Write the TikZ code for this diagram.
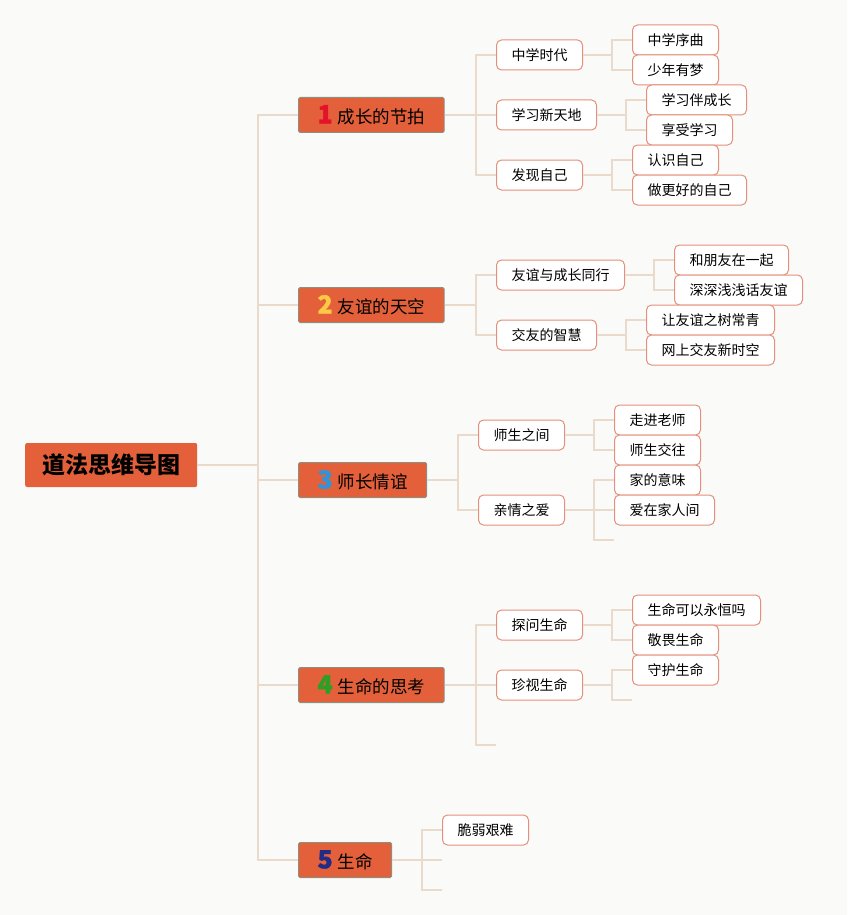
\documentclass[tikz,border=0pt]{standalone}
\usepackage{fontspec}
\setmainfont{Noto Sans CJK SC}
\definecolor{bg}{HTML}{FAFAF9}
\definecolor{unitfill}{HTML}{E4603A}
\definecolor{unitline}{HTML}{8E8E7C}
\definecolor{leafline}{HTML}{E4907A}
\definecolor{linkcol}{HTML}{E9DACB}
\definecolor{no1}{HTML}{E3132C}
\definecolor{no2}{HTML}{FBC945}
\definecolor{no3}{HTML}{3293D6}
\definecolor{no4}{HTML}{2F9E25}
\definecolor{no5}{HTML}{1F2D86}
\newcommand{\unitno}[2]{{\fontsize{25}{25}\selectfont\bfseries\addfontfeatures{FakeBold=1.5}\color{#1}#2}\hspace{5pt}}
\tikzset{
  rootbox/.style={fill=unitfill, rounded corners=2pt, minimum height=44pt,
    inner xsep=17pt, inner ysep=0pt, anchor=west,
    font=\fontsize{23}{23}\selectfont\bfseries},
  unitbox/.style={fill=unitfill, draw=unitline, line width=1pt, rounded corners=1.5pt,
    minimum height=35pt, inner xsep=19pt, inner ysep=0pt, anchor=west,
    font=\fontsize{17.5}{17.5}\selectfont},
  leafbox/.style={fill=white, draw=leafline, line width=1pt, rounded corners=5pt,
    minimum height=30pt, inner xsep=15pt, inner ysep=0pt, anchor=west,
    font=\fontsize{14}{14}\selectfont},
  link/.style={draw=linkcol, line width=1.3pt},
  elbow/.style={to path={(\tikztostart.east) -| ([xshift=-#1]\tikztotarget.west) -- (\tikztotarget.west)}},
  elbow/.default=20pt,
  stub/.style={to path={(\tikztostart.east) -| ([xshift=-20pt]\tikztotarget) -- (\tikztotarget)}},
}
\begin{document}
\begin{tikzpicture}[x=1pt, y=-1pt]
  \useasboundingbox[fill=bg] (0,0) rectangle (847,915);

  \node[rootbox] (root) at (25,465) {道法思维导图};

  % units
  \node[unitbox] (u1) at (298,115) {\unitno{no1}{1}成长的节拍};
  \node[unitbox] (u2) at (298,305) {\unitno{no2}{2}友谊的天空};
  \node[unitbox] (u3) at (298,480) {\unitno{no3}{3}师长情谊};
  \node[unitbox] (u4) at (298,685) {\unitno{no4}{4}生命的思考};
  \node[unitbox] (u5) at (298,860) {\unitno{no5}{5}生命};

  % unit 1
  \node[leafbox] (u1-1) at (496,55) {中学时代};
  \node[leafbox] (u1-2) at (496,115) {学习新天地};
  \node[leafbox] (u1-3) at (496,175) {发现自己};
  \node[leafbox] (u1-1-1) at (632,40) {中学序曲};
  \node[leafbox] (u1-1-2) at (632,70) {少年有梦};
  \node[leafbox] (u1-2-1) at (646,100) {学习伴成长};
  \node[leafbox] (u1-2-2) at (646,130) {享受学习};
  \node[leafbox] (u1-3-1) at (632,160) {认识自己};
  \node[leafbox] (u1-3-2) at (632,190) {做更好的自己};

  % unit 2
  \node[leafbox] (u2-1) at (496,275) {友谊与成长同行};
  \node[leafbox] (u2-2) at (496,335) {交友的智慧};
  \node[leafbox] (u2-1-1) at (674,260) {和朋友在一起};
  \node[leafbox] (u2-1-2) at (674,290) {深深浅浅话友谊};
  \node[leafbox] (u2-2-1) at (646,320) {让友谊之树常青};
  \node[leafbox] (u2-2-2) at (646,350) {网上交友新时空};

  % unit 3
  \node[leafbox] (u3-1) at (478,435) {师生之间};
  \node[leafbox] (u3-2) at (478,510) {亲情之爱};
  \node[leafbox] (u3-1-1) at (614,420) {走进老师};
  \node[leafbox] (u3-1-2) at (614,450) {师生交往};
  \node[leafbox] (u3-2-1) at (614,480) {家的意味};
  \node[leafbox] (u3-2-2) at (614,510) {爱在家人间};
  \coordinate (u3-2-3) at (614,540);

  % unit 4
  \node[leafbox] (u4-1) at (496,625) {探问生命};
  \node[leafbox] (u4-2) at (496,685) {珍视生命};
  \coordinate (u4-3) at (496,745);
  \node[leafbox] (u4-1-1) at (632,610) {生命可以永恒吗};
  \node[leafbox] (u4-1-2) at (632,640) {敬畏生命};
  \node[leafbox] (u4-2-1) at (632,670) {守护生命};
  \coordinate (u4-2-2) at (632,700);

  % unit 5
  \node[leafbox] (u5-1) at (442,830) {脆弱艰难};
  \coordinate (u5-2) at (442,860);
  \coordinate (u5-3) at (442,890);

  \path[link]
    (root) edge[elbow=40pt] (u1) edge[elbow=40pt] (u2) edge[elbow=40pt] (u3)
      edge[elbow=40pt] (u4) edge[elbow=40pt] (u5)
    (u1) edge[elbow] (u1-1) edge[elbow] (u1-2) edge[elbow] (u1-3)
    (u1-1) edge[elbow] (u1-1-1) edge[elbow] (u1-1-2)
    (u1-2) edge[elbow] (u1-2-1) edge[elbow] (u1-2-2)
    (u1-3) edge[elbow] (u1-3-1) edge[elbow] (u1-3-2)
    (u2) edge[elbow] (u2-1) edge[elbow] (u2-2)
    (u2-1) edge[elbow] (u2-1-1) edge[elbow] (u2-1-2)
    (u2-2) edge[elbow] (u2-2-1) edge[elbow] (u2-2-2)
    (u3) edge[elbow] (u3-1) edge[elbow] (u3-2)
    (u3-1) edge[elbow] (u3-1-1) edge[elbow] (u3-1-2)
    (u3-2) edge[elbow] (u3-2-1) edge[elbow] (u3-2-2) edge[stub] (u3-2-3)
    (u4) edge[elbow] (u4-1) edge[elbow] (u4-2) edge[stub] (u4-3)
    (u4-1) edge[elbow] (u4-1-1) edge[elbow] (u4-1-2)
    (u4-2) edge[elbow] (u4-2-1) edge[stub] (u4-2-2)
    (u5) edge[elbow] (u5-1) edge[stub] (u5-2) edge[stub] (u5-3);
\end{tikzpicture}
\end{document}
